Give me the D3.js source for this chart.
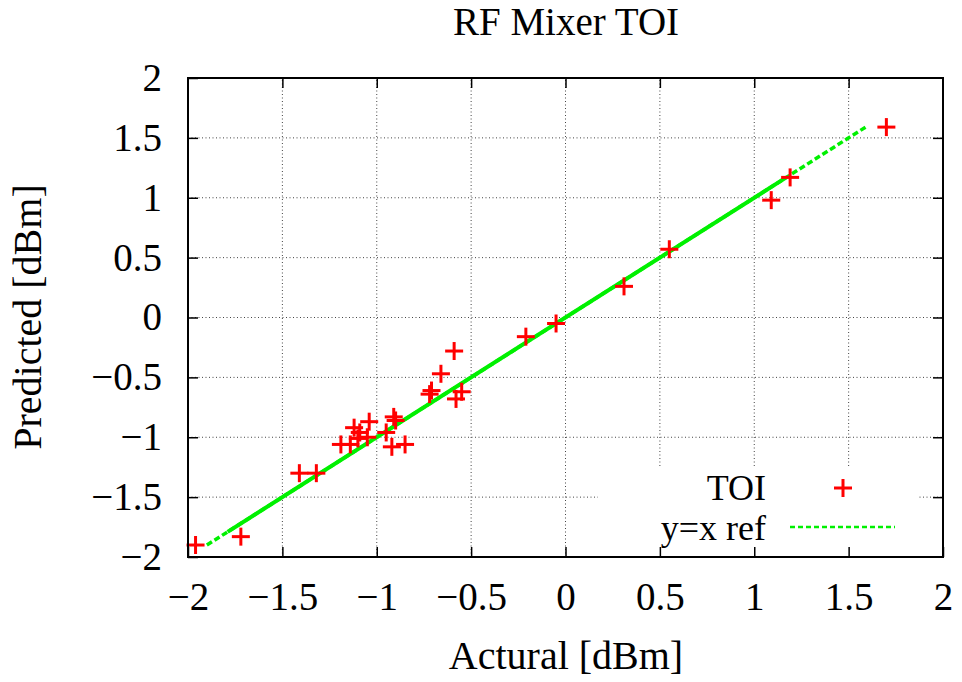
<!DOCTYPE html>
<html>
<head>
<meta charset="utf-8">
<script src="https://cdn.jsdelivr.net/npm/d3@7"></script>
<style>
  html, body { margin: 0; padding: 0; background: #fff; }
  svg { display: block; }
</style>
</head>
<body>
<svg id="chart" width="962" height="682"></svg>
<script>
// ---- data ----
const actual = [-1.96, -1.72, -1.41, -1.32, -1.19, -1.14, -1.12, -1.09, -1.04, -1.05, -1.10,
                -0.95, -0.91, -0.90, -0.92, -0.85, -0.71, -0.72, -0.66, -0.59, -0.55, -0.58,
                -0.21, -0.05, 0.31, 0.55, 1.09, 1.19, 1.70];
const predicted = [-1.90, -1.83, -1.30, -1.30, -1.06, -1.06, -0.92, -0.96, -0.87, -1.00, -1.01,
                   -0.96, -0.83, -0.86, -1.08, -1.06, -0.61, -0.64, -0.47, -0.28, -0.62, -0.68,
                   -0.16, -0.05, 0.26, 0.57, 0.98, 1.17, 1.59];
const refX = [-1.9, 1.6];          // dashed y=x reference
const refSolidX = [-1.79, 1.17];   // solid overlay portion
const xTicks = [-2, -1.5, -1, -0.5, 0, 0.5, 1, 1.5, 2];
const yTicks = [-2, -1.5, -1, -0.5, 0, 0.5, 1, 1.5, 2];
const titleText = "RF Mixer TOI";
const xLabel = "Actural [dBm]";
const yLabel = "Predicted [dBm]";
const legendLabels = ["TOI", "y=x ref"];

// ---- layout ----
const FONT = "'Liberation Serif', Tinos, 'Times New Roman', Times, serif";
const W = 962, H = 682;
const m = { left: 188, right: 962 - 943, top: 78, bottom: 682 - 557 };
const svg = d3.select("#chart");
const x = d3.scaleLinear().domain([-2, 2]).range([m.left, W - m.right]);
const y = d3.scaleLinear().domain([-2, 2]).range([H - m.bottom, m.top]);
const fmt = d => (d < 0 ? "\u2212" + Math.abs(d) : String(d));
const GREEN = "#00f000";

// grid
const grid = svg.append("g");
grid.selectAll("line.gx").data(xTicks.filter(d => d > -2 && d < 2)).join("line")
  .attr("x1", d => x(d)).attr("x2", d => x(d))
  .attr("y1", y(-2)).attr("y2", y(2))
  .attr("stroke", "#444").attr("stroke-width", 1).attr("stroke-dasharray", "1,2.5");
grid.selectAll("line.gy").data(yTicks.filter(d => d > -2 && d < 2)).join("line")
  .attr("y1", d => y(d)).attr("y2", d => y(d))
  .attr("x1", x(-2)).attr("x2", x(2))
  .attr("stroke", "#444").attr("stroke-width", 1).attr("stroke-dasharray", "1,2.5");

// legend background
svg.append("rect").attr("x", 598).attr("y", 467).attr("width", 320).attr("height", 88).attr("fill", "#fff");

// reference lines
const line = d3.line().x(d => x(d)).y(d => y(d));
svg.append("path").attr("d", line(refX)).attr("fill", "none")
  .attr("stroke", GREEN).attr("stroke-width", 3.5).attr("stroke-dasharray", "6,3");
svg.append("path").attr("d", line(refSolidX)).attr("fill", "none")
  .attr("stroke", GREEN).attr("stroke-width", 4);

// points
const arm = 9;
const pts = svg.append("g").attr("stroke", "#ff0000").attr("stroke-width", 3);
actual.forEach((a, i) => {
  const cx = x(a), cy = y(predicted[i]);
  pts.append("line").attr("x1", cx - arm).attr("x2", cx + arm).attr("y1", cy).attr("y2", cy);
  pts.append("line").attr("x1", cx).attr("x2", cx).attr("y1", cy - arm).attr("y2", cy + arm);
});

// axes with inward ticks on all sides
const tl = 10;
const fs = 39;
svg.append("g").attr("transform", `translate(0,${y(-2)})`)
  .call(d3.axisBottom(x).tickValues(xTicks).tickFormat(fmt).tickSizeInner(-tl).tickSizeOuter(0).tickPadding(25))
  .call(g => { g.select(".domain").remove(); g.selectAll("line").attr("stroke", "#000").attr("stroke-width", 1.5);
               g.selectAll("text").attr("fill", "#000").style("font-size", fs + "px").style("font-family", FONT); });
svg.append("g").attr("transform", `translate(0,${y(2)})`)
  .call(d3.axisTop(x).tickValues(xTicks.filter(d => d > -2 && d < 2)).tickFormat("").tickSizeInner(-tl).tickSizeOuter(0))
  .call(g => { g.select(".domain").remove(); g.selectAll("line").attr("stroke", "#000").attr("stroke-width", 1.5); });
svg.append("g").attr("transform", `translate(${x(-2)},0)`)
  .call(d3.axisLeft(y).tickValues(yTicks).tickFormat(fmt).tickSizeInner(-tl).tickSizeOuter(0).tickPadding(26))
  .call(g => { g.select(".domain").remove(); g.selectAll("line").attr("stroke", "#000").attr("stroke-width", 1.5);
               g.selectAll("text").attr("fill", "#000").style("font-size", fs + "px").style("font-family", FONT); });
svg.append("g").attr("transform", `translate(${x(2)},0)`)
  .call(d3.axisRight(y).tickValues(yTicks.filter(d => d > -2 && d < 2)).tickFormat("").tickSizeInner(-tl).tickSizeOuter(0))
  .call(g => { g.select(".domain").remove(); g.selectAll("line").attr("stroke", "#000").attr("stroke-width", 1.5); });

// frame
svg.append("rect").attr("x", x(-2)).attr("y", y(2)).attr("width", x(2) - x(-2)).attr("height", y(-2) - y(2))
  .attr("fill", "none").attr("stroke", "#000").attr("stroke-width", 2);

// legend
const txt = (sel) => sel.style("font-family", FONT).attr("fill", "#000");
svg.append("text").attr("x", 766).attr("y", 500).attr("text-anchor", "end").style("font-size", "36px").call(txt).text(legendLabels[0]);
svg.append("text").attr("x", 766).attr("y", 540).attr("text-anchor", "end").style("font-size", "36px").call(txt).text(legendLabels[1]);
svg.append("line").attr("x1", 843 - arm).attr("x2", 843 + arm).attr("y1", 488).attr("y2", 488).attr("stroke", "#ff0000").attr("stroke-width", 3);
svg.append("line").attr("x1", 843).attr("x2", 843).attr("y1", 488 - arm).attr("y2", 488 + arm).attr("stroke", "#ff0000").attr("stroke-width", 3);
svg.append("line").attr("x1", 790).attr("x2", 895).attr("y1", 527).attr("y2", 527)
  .attr("stroke", GREEN).attr("stroke-width", 2.5).attr("stroke-dasharray", "5,3");

// titles
svg.append("text").attr("x", 566).attr("y", 35).attr("text-anchor", "middle").style("font-size", "39px").call(txt).text(titleText);
svg.append("text").attr("x", 566).attr("y", 669).attr("text-anchor", "middle").style("font-size", "40px").call(txt).text(xLabel);
svg.append("text").attr("transform", "translate(41,317) rotate(-90)").attr("text-anchor", "middle").style("font-size", "40px").call(txt).text(yLabel);
</script>
</body>
</html>
